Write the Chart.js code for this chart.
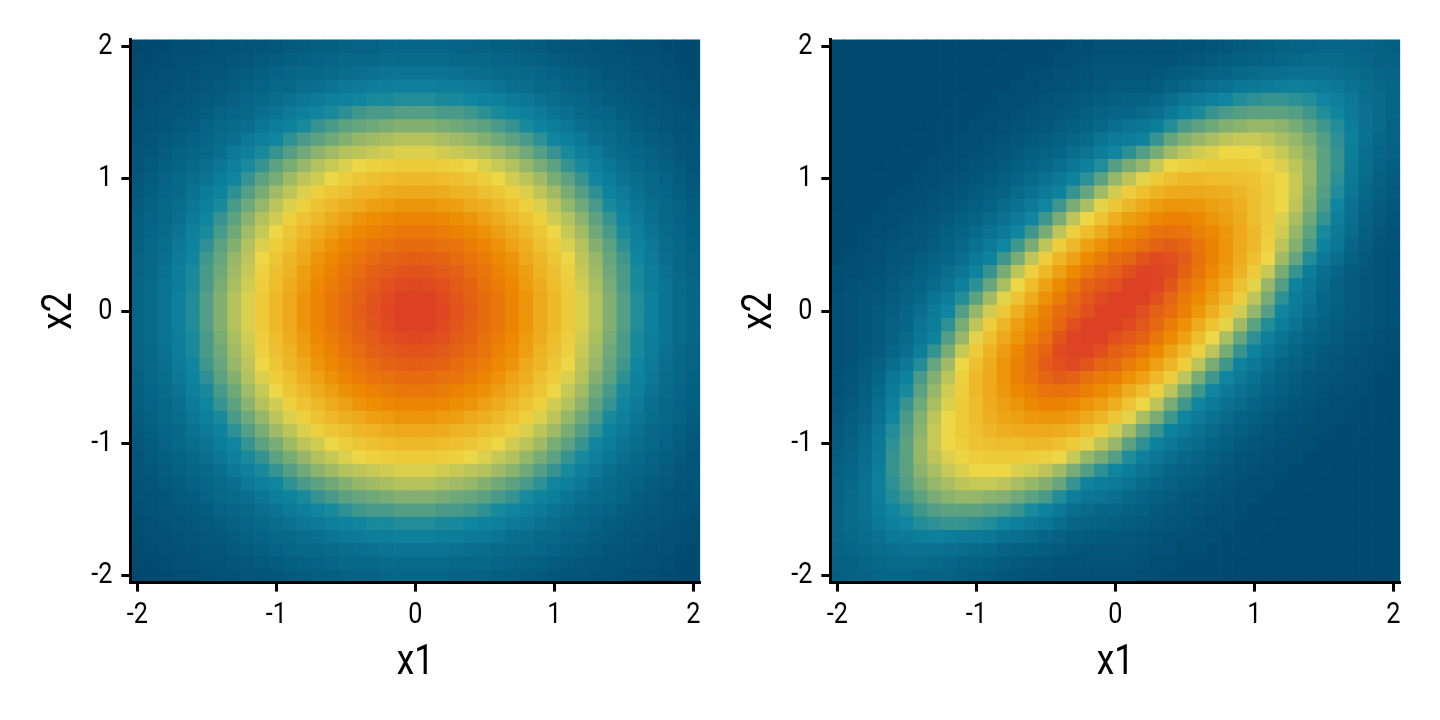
<!DOCTYPE html>
<html>
<head>
<meta charset="utf-8">
<script src="https://cdn.jsdelivr.net/npm/chart.js@4/dist/chart.umd.min.js"></script>
<style>
  html, body { margin: 0; background: #fff; }
  canvas { position: absolute; top: 0; }
  #left { left: 0; }
  #right { left: 700px; }
</style>
</head>
<body>
<canvas id="left" width="720" height="720"></canvas>
<canvas id="right" width="720" height="720"></canvas>
<script>
const x1Cells = [-2,-1.9,-1.8,-1.7,-1.6,-1.5,-1.4,-1.3,-1.2,-1.1,-1,-0.9,-0.8,-0.7,-0.6,-0.5,-0.4,-0.3,-0.2,-0.1,0,0.1,0.2,0.3,0.4,0.5,0.6,0.7,0.8,0.9,1,1.1,1.2,1.3,1.4,1.5,1.6,1.7,1.8,1.9,2];
const x2Cells = [2,1.9,1.8,1.7,1.6,1.5,1.4,1.3,1.2,1.1,1,0.9,0.8,0.7,0.6,0.5,0.4,0.3,0.2,0.1,0,-0.1,-0.2,-0.3,-0.4,-0.5,-0.6,-0.7,-0.8,-0.9,-1,-1.1,-1.2,-1.3,-1.4,-1.5,-1.6,-1.7,-1.8,-1.9,-2];
const tickValues = [-2,-1,0,1,2];

// colour level of each cell, 0-100, top row first
const leftLevels = [
[0,1,1,2,2,3,4,4,5,5,6,7,8,9,9,10,11,11,12,12,12,12,12,11,11,10,9,9,8,7,6,5,5,4,4,3,2,2,1,1,0],
[1,1,2,3,3,4,4,5,6,7,8,9,10,11,12,13,13,13,14,14,14,14,14,13,13,13,12,11,10,9,8,7,6,5,4,4,3,3,2,1,1],
[1,2,3,3,4,5,5,7,8,9,11,12,13,13,14,15,16,17,18,18,18,18,18,17,16,15,14,13,13,12,11,9,8,7,5,5,4,3,3,2,1],
[2,3,3,4,5,6,7,8,10,11,13,13,15,16,18,20,21,22,22,23,23,23,22,22,21,20,18,16,15,13,13,11,10,8,7,6,5,4,3,3,2],
[2,3,4,5,6,7,8,10,12,13,15,17,19,21,23,24,25,26,26,27,27,27,26,26,25,24,23,21,19,17,15,13,12,10,8,7,6,5,4,3,2],
[3,4,5,6,7,8,11,12,13,16,18,21,23,25,26,28,30,31,31,32,32,32,31,31,30,28,26,25,23,21,18,16,13,12,11,8,7,6,5,4,3],
[4,4,5,7,8,11,13,14,16,19,22,24,26,29,31,33,34,35,36,37,37,37,36,35,34,33,31,29,26,24,22,19,16,14,13,11,8,7,5,4,4],
[4,5,7,8,10,12,14,16,20,23,25,28,31,33,35,37,39,40,41,42,42,42,41,40,39,37,35,33,31,28,25,23,20,16,14,12,10,8,7,5,4],
[5,6,8,10,12,13,16,20,23,26,29,32,35,38,40,42,43,44,45,46,46,46,45,44,43,42,40,38,35,32,29,26,23,20,16,13,12,10,8,6,5],
[5,7,9,11,13,16,19,23,26,29,33,36,39,42,44,46,48,50,51,52,52,52,51,50,48,46,44,42,39,36,33,29,26,23,19,16,13,11,9,7,5],
[6,8,11,13,15,18,22,25,29,33,36,40,43,45,48,51,53,55,56,57,57,57,56,55,53,51,48,45,43,40,36,33,29,25,22,18,15,13,11,8,6],
[7,9,12,13,17,21,24,28,32,36,40,43,46,50,53,55,58,59,61,62,62,62,61,59,58,55,53,50,46,43,40,36,32,28,24,21,17,13,12,9,7],
[8,10,13,15,19,23,26,31,35,39,43,46,50,54,57,60,62,65,66,68,68,68,66,65,62,60,57,54,50,46,43,39,35,31,26,23,19,15,13,10,8],
[9,11,13,16,21,25,29,33,38,42,45,50,54,57,61,64,68,70,72,73,73,73,72,70,68,64,61,57,54,50,45,42,38,33,29,25,21,16,13,11,9],
[9,12,14,18,23,26,31,35,40,44,48,53,57,61,65,69,72,74,76,78,78,78,76,74,72,69,65,61,57,53,48,44,40,35,31,26,23,18,14,12,9],
[10,13,15,20,24,28,33,37,42,46,51,55,60,64,69,73,76,79,80,82,82,82,80,79,76,73,69,64,60,55,51,46,42,37,33,28,24,20,15,13,10],
[11,13,16,21,25,30,34,39,43,48,53,58,62,68,72,76,79,82,85,86,87,86,85,82,79,76,72,68,62,58,53,48,43,39,34,30,25,21,16,13,11],
[11,13,17,22,26,31,35,40,44,50,55,59,65,70,74,79,82,86,88,90,91,90,88,86,82,79,74,70,65,59,55,50,44,40,35,31,26,22,17,13,11],
[12,14,18,22,26,31,36,41,45,51,56,61,66,72,76,80,85,88,92,94,95,94,92,88,85,80,76,72,66,61,56,51,45,41,36,31,26,22,18,14,12],
[12,14,18,23,27,32,37,42,46,52,57,62,68,73,78,82,86,90,94,97,98,97,94,90,86,82,78,73,68,62,57,52,46,42,37,32,27,23,18,14,12],
[12,14,18,23,27,32,37,42,46,52,57,62,68,73,78,82,87,91,95,98,100,98,95,91,87,82,78,73,68,62,57,52,46,42,37,32,27,23,18,14,12],
[12,14,18,23,27,32,37,42,46,52,57,62,68,73,78,82,86,90,94,97,98,97,94,90,86,82,78,73,68,62,57,52,46,42,37,32,27,23,18,14,12],
[12,14,18,22,26,31,36,41,45,51,56,61,66,72,76,80,85,88,92,94,95,94,92,88,85,80,76,72,66,61,56,51,45,41,36,31,26,22,18,14,12],
[11,13,17,22,26,31,35,40,44,50,55,59,65,70,74,79,82,86,88,90,91,90,88,86,82,79,74,70,65,59,55,50,44,40,35,31,26,22,17,13,11],
[11,13,16,21,25,30,34,39,43,48,53,58,62,68,72,76,79,82,85,86,87,86,85,82,79,76,72,68,62,58,53,48,43,39,34,30,25,21,16,13,11],
[10,13,15,20,24,28,33,37,42,46,51,55,60,64,69,73,76,79,80,82,82,82,80,79,76,73,69,64,60,55,51,46,42,37,33,28,24,20,15,13,10],
[9,12,14,18,23,26,31,35,40,44,48,53,57,61,65,69,72,74,76,78,78,78,76,74,72,69,65,61,57,53,48,44,40,35,31,26,23,18,14,12,9],
[9,11,13,16,21,25,29,33,38,42,45,50,54,57,61,64,68,70,72,73,73,73,72,70,68,64,61,57,54,50,45,42,38,33,29,25,21,16,13,11,9],
[8,10,13,15,19,23,26,31,35,39,43,46,50,54,57,60,62,65,66,68,68,68,66,65,62,60,57,54,50,46,43,39,35,31,26,23,19,15,13,10,8],
[7,9,12,13,17,21,24,28,32,36,40,43,46,50,53,55,58,59,61,62,62,62,61,59,58,55,53,50,46,43,40,36,32,28,24,21,17,13,12,9,7],
[6,8,11,13,15,18,22,25,29,33,36,40,43,45,48,51,53,55,56,57,57,57,56,55,53,51,48,45,43,40,36,33,29,25,22,18,15,13,11,8,6],
[5,7,9,11,13,16,19,23,26,29,33,36,39,42,44,46,48,50,51,52,52,52,51,50,48,46,44,42,39,36,33,29,26,23,19,16,13,11,9,7,5],
[5,6,8,10,12,13,16,20,23,26,29,32,35,38,40,42,43,44,45,46,46,46,45,44,43,42,40,38,35,32,29,26,23,20,16,13,12,10,8,6,5],
[4,5,7,8,10,12,14,16,20,23,25,28,31,33,35,37,39,40,41,42,42,42,41,40,39,37,35,33,31,28,25,23,20,16,14,12,10,8,7,5,4],
[4,4,5,7,8,11,13,14,16,19,22,24,26,29,31,33,34,35,36,37,37,37,36,35,34,33,31,29,26,24,22,19,16,14,13,11,8,7,5,4,4],
[3,4,5,6,7,8,11,12,13,16,18,21,23,25,26,28,30,31,31,32,32,32,31,31,30,28,26,25,23,21,18,16,13,12,11,8,7,6,5,4,3],
[2,3,4,5,6,7,8,10,12,13,15,17,19,21,23,24,25,26,26,27,27,27,26,26,25,24,23,21,19,17,15,13,12,10,8,7,6,5,4,3,2],
[2,3,3,4,5,6,7,8,10,11,13,13,15,16,18,20,21,22,22,23,23,23,22,22,21,20,18,16,15,13,13,11,10,8,7,6,5,4,3,3,2],
[1,2,3,3,4,5,5,7,8,9,11,12,13,13,14,15,16,17,18,18,18,18,18,17,16,15,14,13,13,12,11,9,8,7,5,5,4,3,3,2,1],
[1,1,2,3,3,4,4,5,6,7,8,9,10,11,12,13,13,13,14,14,14,14,14,13,13,13,12,11,10,9,8,7,6,5,4,4,3,3,2,1,1],
[0,1,1,2,2,3,4,4,5,5,6,7,8,9,9,10,11,11,12,12,12,12,12,11,11,10,9,9,8,7,6,5,5,4,4,3,2,2,1,1,0]
];

const rightLevels = [
[0,0,0,0,0,0,0,0,0,0,0,0,0,1,1,1,1,2,2,3,3,3,3,3,3,4,4,5,6,7,8,9,10,11,11,12,12,12,11,10,9],
[0,0,0,0,0,0,0,0,0,0,0,0,1,1,1,1,2,2,3,4,4,4,4,4,4,5,6,7,8,9,10,11,12,13,14,14,14,13,12,10,10],
[0,0,0,0,0,0,0,0,0,0,0,1,1,1,2,2,3,3,4,5,5,5,5,6,7,8,9,10,11,13,14,15,16,17,17,17,16,15,13,12,11],
[0,0,0,0,0,0,0,0,0,0,1,1,1,2,2,3,3,4,5,6,7,7,7,8,10,12,14,16,17,19,20,21,22,23,22,21,20,17,15,13,12],
[0,0,0,0,0,0,0,0,0,1,1,1,2,2,3,4,5,6,7,8,9,10,10,12,15,19,21,23,25,27,28,29,29,28,27,25,23,20,16,14,12],
[0,0,0,0,0,0,0,0,1,1,1,2,2,3,4,5,6,7,9,10,12,12,14,16,20,24,26,29,31,32,33,33,33,32,30,27,25,21,17,14,12],
[0,0,0,0,0,0,0,1,1,1,2,2,3,4,5,6,8,9,11,13,16,18,19,22,27,31,33,35,37,38,39,39,38,36,33,30,27,22,17,14,11],
[0,0,0,0,0,0,1,1,1,2,2,3,4,5,7,8,10,12,14,18,21,22,24,29,34,37,39,41,43,44,44,43,41,39,36,32,28,23,17,13,11],
[0,0,0,0,0,1,1,1,2,2,3,4,5,7,9,10,12,15,18,22,25,28,32,36,40,43,45,46,48,48,48,46,44,41,38,33,29,22,16,12,10],
[0,0,0,0,1,1,1,2,2,3,4,5,7,9,11,13,16,19,23,27,32,36,39,44,48,50,51,52,52,52,51,49,46,43,39,33,29,21,15,11,9],
[0,0,0,1,1,1,2,2,3,4,5,7,9,11,14,17,20,24,28,33,39,43,47,52,55,57,57,56,56,55,54,51,48,44,39,33,28,20,14,10,8],
[0,0,1,1,1,2,2,3,4,5,7,9,11,14,17,21,24,29,34,40,45,51,55,59,61,62,62,61,60,58,55,52,48,44,38,32,27,19,13,9,7],
[0,1,1,1,2,2,3,4,5,7,9,11,14,17,21,25,30,36,41,47,53,58,62,66,68,68,67,65,63,60,56,52,48,43,37,31,25,17,11,8,6],
[1,1,1,2,2,3,4,5,7,9,11,14,17,21,25,30,36,43,48,54,60,65,68,72,74,74,72,68,65,61,56,52,46,41,35,29,23,16,10,7,5],
[1,1,2,2,3,4,5,7,9,11,14,17,21,25,30,36,43,50,56,61,67,71,75,79,80,79,75,72,67,62,57,51,45,39,33,26,21,14,9,6,4],
[1,1,2,3,4,5,6,8,10,13,17,21,25,30,36,43,51,57,64,69,75,77,81,85,88,84,79,74,68,62,57,50,43,37,31,24,19,12,8,5,4],
[1,2,3,3,5,6,8,10,12,16,20,24,30,36,43,51,58,64,71,76,82,84,90,94,92,88,80,74,68,61,55,48,40,34,27,20,15,10,7,4,3],
[2,2,3,4,6,7,9,12,15,19,24,29,36,43,50,57,64,71,78,83,86,92,96,96,94,85,79,72,66,59,52,44,36,29,22,16,12,8,6,4,3],
[2,3,4,5,7,9,11,14,18,23,28,34,41,48,56,64,71,78,85,89,92,97,98,96,90,81,75,68,62,55,47,39,32,24,19,14,10,7,5,4,3],
[3,4,5,6,8,10,13,18,22,27,33,40,47,54,61,69,76,83,89,94,97,99,97,92,84,77,71,65,58,51,43,36,28,22,18,12,10,7,5,4,3],
[3,4,5,7,9,12,16,21,25,32,39,45,53,60,67,75,82,86,92,97,100,97,92,86,82,75,67,60,53,45,39,32,25,21,16,12,9,7,5,4,3],
[3,4,5,7,10,12,18,22,28,36,43,51,58,65,71,77,84,92,97,99,97,94,89,83,76,69,61,54,47,40,33,27,22,18,13,10,8,6,5,4,3],
[3,4,5,7,10,14,19,24,32,39,47,55,62,68,75,81,90,96,98,97,92,89,85,78,71,64,56,48,41,34,28,23,18,14,11,9,7,5,4,3,2],
[3,4,6,8,12,16,22,29,36,44,52,59,66,72,79,85,94,96,96,92,86,83,78,71,64,57,50,43,36,29,24,19,15,12,9,7,6,4,3,2,2],
[3,4,7,10,15,20,27,34,40,48,55,61,68,74,80,88,92,94,90,84,82,76,71,64,58,51,43,36,30,24,20,16,12,10,8,6,5,3,3,2,1],
[4,5,8,12,19,24,31,37,43,50,57,62,68,74,79,84,88,85,81,77,75,69,64,57,51,43,36,30,25,21,17,13,10,8,6,5,4,3,2,1,1],
[4,6,9,14,21,26,33,39,45,51,57,62,67,72,75,79,80,79,75,71,67,61,56,50,43,36,30,25,21,17,14,11,9,7,5,4,3,2,2,1,1],
[5,7,10,16,23,29,35,41,46,52,56,61,65,68,72,74,74,72,68,65,60,54,48,43,36,30,25,21,17,14,11,9,7,5,4,3,2,2,1,1,1],
[6,8,11,17,25,31,37,43,48,52,56,60,63,65,67,68,68,66,62,58,53,47,41,36,30,25,21,17,14,11,9,7,5,4,3,2,2,1,1,1,0],
[7,9,13,19,27,32,38,44,48,52,55,58,60,61,62,62,61,59,55,51,45,40,34,29,24,21,17,14,11,9,7,5,4,3,2,2,1,1,1,0,0],
[8,10,14,20,28,33,39,44,48,51,54,55,56,56,57,57,55,52,47,43,39,33,28,24,20,17,14,11,9,7,5,4,3,2,2,1,1,1,0,0,0],
[9,11,15,21,29,33,39,43,46,49,51,52,52,52,51,50,48,44,39,36,32,27,23,19,16,13,11,9,7,5,4,3,2,2,1,1,1,0,0,0,0],
[10,12,16,22,29,33,38,41,44,46,48,48,48,46,45,43,40,36,32,28,25,22,18,15,12,10,9,7,5,4,3,2,2,1,1,1,0,0,0,0,0],
[11,13,17,23,28,32,36,39,41,43,44,44,43,41,39,37,34,29,24,22,21,18,14,12,10,8,7,5,4,3,2,2,1,1,1,0,0,0,0,0,0],
[11,14,17,22,27,30,33,36,38,39,39,38,37,35,33,31,27,22,19,18,16,13,11,9,8,6,5,4,3,2,2,1,1,1,0,0,0,0,0,0,0],
[12,14,17,21,25,27,30,32,33,33,33,32,31,29,26,24,20,16,14,12,12,10,9,7,6,5,4,3,2,2,1,1,1,0,0,0,0,0,0,0,0],
[12,14,16,20,23,25,27,28,29,29,28,27,25,23,21,19,15,12,10,10,9,8,7,6,5,4,3,2,2,1,1,1,0,0,0,0,0,0,0,0,0],
[12,13,15,17,20,21,22,23,22,21,20,19,17,16,14,12,10,8,7,7,7,6,5,4,3,3,2,2,1,1,1,0,0,0,0,0,0,0,0,0,0],
[11,12,13,15,16,17,17,17,16,15,14,13,11,10,9,8,7,6,5,5,5,5,4,3,3,2,2,1,1,1,0,0,0,0,0,0,0,0,0,0,0],
[10,10,12,13,14,14,14,13,12,11,10,9,8,7,6,5,4,4,4,4,4,4,3,2,2,1,1,1,1,0,0,0,0,0,0,0,0,0,0,0,0],
[9,10,11,12,12,12,11,11,10,9,8,7,6,5,4,4,3,3,3,3,3,3,2,2,1,1,1,1,0,0,0,0,0,0,0,0,0,0,0,0,0]
];

const stopLevels = [0,25,48,71,97];
const colorStops = [[0,73,111],[15,133,160],[237,215,70],[237,139,0],[221,65,36]];
const halfCell = 0.05;
const fontFamily = 'Roboto, sans-serif';
const textSqueeze = 0.84;

// level -> colour along the five stops
function levelColor(level) {
  let i = 0;
  while (i < 3 && level > stopLevels[i + 1]) i++;
  const f = Math.min((level - stopLevels[i]) / (stopLevels[i + 1] - stopLevels[i]), 1);
  const a = colorStops[i], b = colorStops[i + 1];
  return `rgb(${a[0] + (b[0] - a[0]) * f},${a[1] + (b[1] - a[1]) * f},${a[2] + (b[2] - a[2]) * f})`;
}

// the reference text is condensed and no condensed face is installed, so squeeze it
function squeezeText(ctx) {
  const fill = ctx.fillText.bind(ctx);
  ctx.fillText = function(text, x, y, maxWidth) {
    ctx.save();
    ctx.translate(x, y);
    ctx.scale(textSqueeze, 1);
    fill(text, 0, 0, maxWidth);
    ctx.restore();
  };
}

function makePanel(id, levels) {
  // one floating-bar dataset per row of cells
  const datasets = levels.map((row, r) => ({
    data: row.map(() => [x2Cells[r] - halfCell, x2Cells[r] + halfCell]),
    backgroundColor: row.map(levelColor),
    borderWidth: 0,
    barPercentage: 1,
    categoryPercentage: 1,
    grouped: false
  }));
  const canvas = document.getElementById(id);
  squeezeText(canvas.getContext('2d'));
  new Chart(canvas, {
    type: 'bar',
    data: { labels: x1Cells.map(String), datasets },
    options: {
      responsive: false,
      animation: false,
      layout: { padding: { left: 0, top: 39.4, right: 19.75, bottom: 0 } },
      plugins: { legend: { display: false }, tooltip: { enabled: false } },
      scales: {
        x: {
          type: 'category',
          border: { display: true, color: '#000', width: 3, z: 1 },
          grid: { offset: false, drawOnChartArea: false, drawTicks: true, tickLength: 9, tickWidth: 3, tickColor: '#000' },
          ticks: { color: '#000', font: { family: fontFamily, size: 30 }, padding: 6, autoSkip: false, maxRotation: 0 },
          title: { display: true, text: 'x1', color: '#000', font: { family: fontFamily, size: 42 }, padding: { top: 0, bottom: 31 } },
          afterBuildTicks: s => { s.ticks = tickValues.map(v => ({ value: x1Cells.indexOf(v) })); },
          afterFit: s => { s.height = 137.4; }
        },
        y: {
          type: 'linear',
          min: -2.05,
          max: 2.05,
          border: { display: true, color: '#000', width: 3, z: 1 },
          grid: { drawOnChartArea: false, drawTicks: true, tickLength: 9, tickWidth: 3, tickColor: '#000' },
          ticks: { color: '#000', font: { family: fontFamily, size: 30 }, padding: 9 },
          title: { display: true, text: 'x2', color: '#000', font: { family: fontFamily, size: 42 }, padding: { top: 35, bottom: 0 } },
          afterBuildTicks: s => { s.ticks = tickValues.map(v => ({ value: v })); },
          afterFit: s => { s.width = 130.35; }
        }
      }
    }
  });
}

makePanel('left', leftLevels);
makePanel('right', rightLevels);
</script>
</body>
</html>
